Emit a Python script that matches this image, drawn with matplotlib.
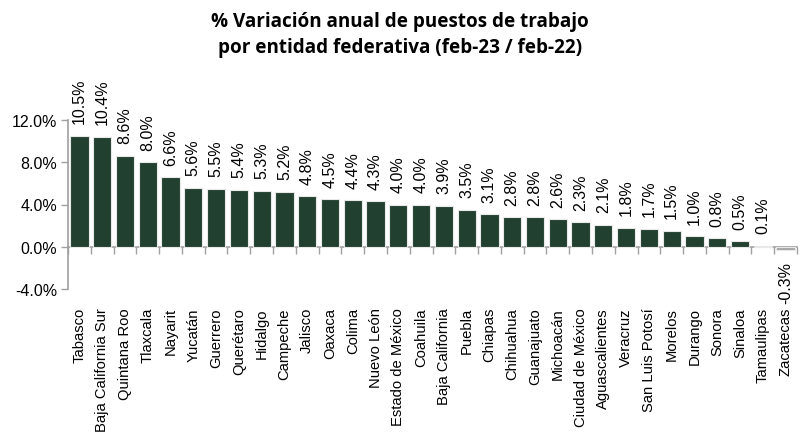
import matplotlib
matplotlib.use("Agg")
import matplotlib.pyplot as plt
from matplotlib.ticker import FixedLocator, NullFormatter
import numpy as np

estados = ["Tabasco", "Baja California Sur", "Quintana Roo", "Tlaxcala", "Nayarit",
           "Yucatán", "Guerrero", "Querétaro", "Hidalgo", "Campeche", "Jalisco",
           "Oaxaca", "Colima", "Nuevo León", "Estado de México", "Coahuila",
           "Baja California", "Puebla", "Chiapas", "Chihuahua", "Guanajuato",
           "Michoacán", "Ciudad de México", "Aguascalientes", "Veracruz",
           "San Luis Potosí", "Morelos", "Durango", "Sonora", "Sinaloa",
           "Tamaulipas", "Zacatecas"]
variacion = [10.5, 10.4, 8.6, 8.0, 6.6, 5.6, 5.5, 5.4, 5.3, 5.2, 4.8, 4.5, 4.4, 4.3,
             4.0, 4.0, 3.9, 3.5, 3.1, 2.8, 2.8, 2.6, 2.3, 2.1, 1.8, 1.7, 1.5, 1.0,
             0.8, 0.5, 0.1, -0.3]
yticks = [-4, 0, 4, 8, 12]

plt.rcParams['font.family'] = ['Liberation Sans', 'DejaVu Sans']

fig = plt.figure(figsize=(8.10, 4.39), dpi=100)
ax = fig.add_axes([68/810, 1-290/439, (797-68)/810, (290-121)/439])

x = np.arange(len(estados))
colors = ['#A6A6A6' if v < 0 else '#22402F' for v in variacion]
ax.bar(x, variacion, width=0.8, color=colors, edgecolor='#E8E8E8', linewidth=0.8, zorder=3)

for xi, v in zip(x, variacion):
    if v >= 0:
        ax.annotate(f"{v:.1f}%", (xi, v), xytext=(0, 9), textcoords='offset points',
                    rotation=90, ha='center', va='bottom', fontsize=11.5, color='#000000',
                    annotation_clip=False)
    else:
        ax.annotate(f"{v:.1f}%", (xi, v), xytext=(0, -8), textcoords='offset points',
                    rotation=90, ha='center', va='top', fontsize=11.5, color='#000000',
                    annotation_clip=False)

ax.set_xlim(-0.5, len(estados) - 0.5)
ax.set_ylim(-4, 12)
ax.set_yticks(yticks)
ax.set_yticklabels([f"{t:.1f}%" for t in yticks], fontsize=11.5)
ax.tick_params(axis='y', direction='out', length=5, color='#A0A0A0', width=1, pad=3)

ax.set_xticks(x)
ax.set_xticklabels(estados, rotation=90, fontsize=10.6)
ax.tick_params(axis='x', length=0, pad=13)

for s in ['top', 'right', 'bottom']:
    ax.spines[s].set_visible(False)
ax.spines['left'].set_color('#A0A0A0')
ax.spines['left'].set_linewidth(1.2)

sec = ax.secondary_xaxis(0.25)
sec.xaxis.set_major_locator(FixedLocator(np.arange(-0.5, len(estados) + 0.5, 1)))
sec.xaxis.set_major_formatter(NullFormatter())
sec.tick_params(axis='x', direction='out', length=5, color='#A0A0A0', width=1)
sec.spines['bottom'].set_color('#A0A0A0')
sec.spines['bottom'].set_linewidth(1.2)

fig.text(400/810, 1-22/439, "% Variación anual de puestos de trabajo", ha='center', va='center',
         fontsize=13.6, fontweight='bold', family=['Open Sans', 'DejaVu Sans'])
fig.text(400/810, 1-48/439, "por entidad federativa (feb-23 / feb-22)", ha='center', va='center',
         fontsize=13.6, fontweight='bold', family=['Open Sans', 'DejaVu Sans'])

fig.savefig("out.png", dpi=100)
